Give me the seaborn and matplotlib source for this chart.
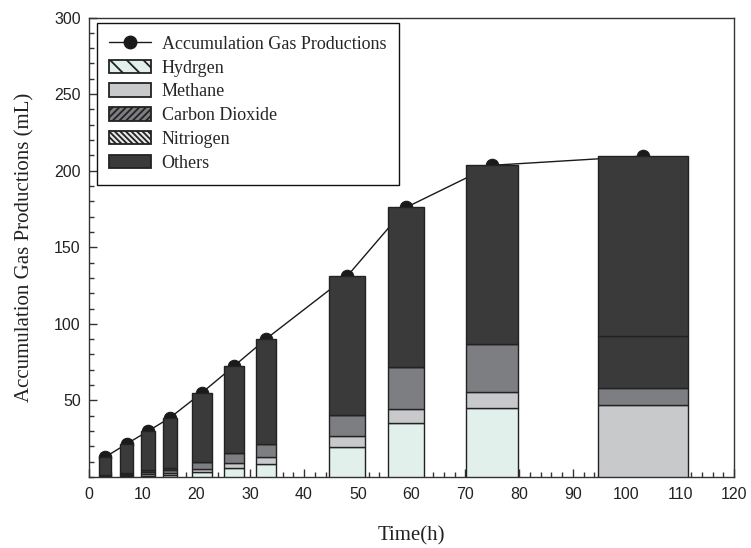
import numpy as np
import matplotlib
matplotlib.use("Agg")
import matplotlib.pyplot as plt
from matplotlib.lines import Line2D
from matplotlib.patches import Patch
from matplotlib.ticker import MultipleLocator, FixedLocator
import seaborn as sns

# ---- data ----
time_h = [3, 7, 11, 15, 21, 27, 33, 48, 59, 75, 103]
accumulation = [13.0, 21.6, 30.0, 38.5, 55.0, 72.5, 90.3, 131.0, 176.0, 203.5, 209.5]
hydrogen = [0.2, 0.4, 0.8, 1.2, 3.2, 6.0, 8.6, 19.7, 35.5, 44.9, 0.0]
methane = [0.4, 0.7, 1.2, 1.5, 2.3, 3.0, 4.3, 6.9, 9.0, 10.7, 47.1]
carbon_dioxide = [0.6, 1.0, 1.5, 2.0, 4.2, 6.8, 8.7, 13.7, 27.1, 31.5, 11.3]
nitrogen = [0.4, 0.5, 0.8, 1.0, 0.0, 0.0, 0.0, 0.0, 0.0, 0.0, 33.9]
others = [11.4, 19.0, 25.7, 32.8, 45.3, 56.7, 68.7, 90.7, 104.4, 116.4, 117.2]
series_names = ["Hydrgen", "Methane", "Carbon Dioxide", "Nitriogen", "Others"]
line_name = "Accumulation Gas Productions"

# ---- styling (not data) ----
bar_widths = [2.1, 2.4, 2.6, 2.6, 3.7, 3.7, 3.7, 6.7, 6.7, 9.6, 16.7]
fills = ["#e1f0ea", "#c8c9cb", "#7d7e82", "#3a3a3a", "#3a3a3a"]
legend_fills = ["#e1f0ea", "#c8c9cb", "#7d7e82", "#e8e8e8", "#3a3a3a"]
legend_hatches = ["\\\\", None, "/////", "\\\\\\\\\\\\", None]

sns.set_theme(style="ticks")
plt.rcParams["font.family"] = ["Liberation Serif", "DejaVu Serif"]
plt.rcParams["hatch.color"] = "#2a2a2a"
plt.rcParams["hatch.linewidth"] = 1.3

fig = plt.figure(figsize=(7.51, 5.48), dpi=100)
ax = fig.add_axes([89 / 751, 1 - 477 / 548, 645 / 751, 459.5 / 548])

# line with markers (drawn behind bars)
sns.lineplot(x=time_h, y=accumulation, ax=ax, color="#1a1a1a", linewidth=1.0,
             marker="o", markersize=9, markeredgecolor="#1a1a1a",
             markerfacecolor="#1a1a1a", zorder=2, legend=False)

stack = [hydrogen, methane, carbon_dioxide, nitrogen, others]
bottom = np.zeros(len(time_h))
for vals, col in zip(stack, fills):
    v = np.array(vals)
    ax.bar(time_h, v, width=bar_widths, bottom=bottom, color=col,
           edgecolor="#222222", linewidth=1.0, zorder=3, align="center")
    bottom = bottom + v

ax.set_xlim(0, 120)
ax.set_ylim(0, 300)
ax.xaxis.set_major_locator(MultipleLocator(10))
ax.xaxis.set_minor_locator(MultipleLocator(2))
ax.yaxis.set_major_locator(FixedLocator([50, 100, 150, 200, 250, 300]))
ax.yaxis.set_minor_locator(MultipleLocator(10))
ax.tick_params(axis="both", which="both", direction="in", color="#333333",
               width=1.0, top=False, right=False)
ax.tick_params(axis="both", which="major", length=6)
ax.tick_params(axis="both", which="minor", length=3.5)
ax.tick_params(axis="x", which="major", pad=7)
ax.tick_params(axis="y", which="major", pad=6)
for lab in ax.get_xticklabels() + ax.get_yticklabels():
    lab.set_fontfamily(["Liberation Sans", "DejaVu Sans"])
    lab.set_fontsize(11.5)
    lab.set_color("#222222")
for sp in ax.spines.values():
    sp.set_visible(True)
    sp.set_color("#333333")
    sp.set_linewidth(1.0)

ax.set_xlabel("Time(h)", fontsize=15, labelpad=18, color="#222222")
ax.set_ylabel("Accumulation Gas Productions (mL)", fontsize=15, labelpad=14,
              color="#222222")

handles = [Line2D([0], [0], color="#1a1a1a", linewidth=1.0, marker="o",
                  markersize=9, markerfacecolor="#1a1a1a",
                  markeredgecolor="#1a1a1a")]
for name, col, h in zip(series_names, legend_fills, legend_hatches):
    handles.append(Patch(facecolor=col, edgecolor="#222222", linewidth=1.3,
                         hatch=h))
labels = [line_name] + series_names
leg = ax.legend(handles, labels, loc="upper left",
                bbox_to_anchor=(0.012, 0.988), borderaxespad=0,
                fontsize=13, frameon=True, fancybox=False, framealpha=1,
                edgecolor="#111111", handlelength=2.3, handleheight=0.75,
                labelspacing=0.38, handletextpad=0.6, borderpad=0.7)
leg.get_frame().set_linewidth(1.0)
leg.set_zorder(5)

fig.savefig("out.png", dpi=100)
